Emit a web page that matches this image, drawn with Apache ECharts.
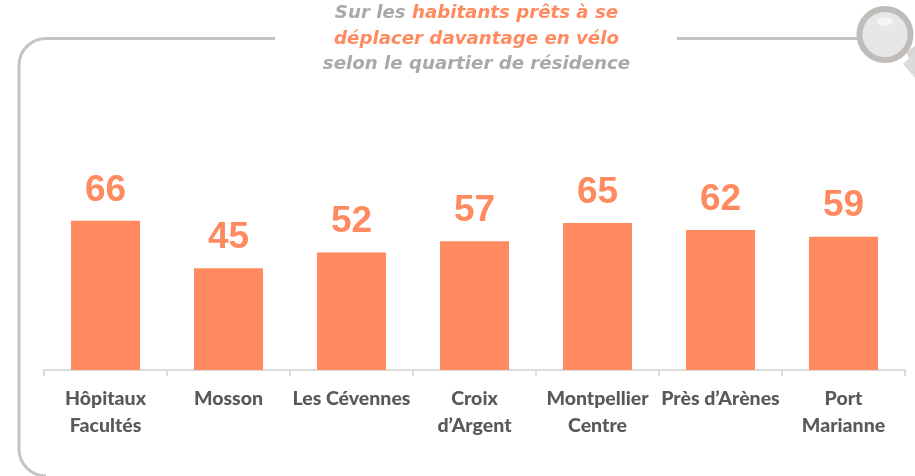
<!DOCTYPE html>
<html><head><meta charset="utf-8">
<style>html,body{margin:0;padding:0;background:#fff}#c{width:915px;height:476px}</style>
<script src="https://cdn.jsdelivr.net/npm/echarts@6/dist/echarts.min.js"></script>
</head><body><div id="c"></div>
<script>
const categories = ['Hôpitaux\nFacultés','Mosson','Les Cévennes','Croix\nd’Argent','Montpellier\nCentre','Près d’Arènes','Port\nMarianne'];
const values = [66,45,52,57,65,62,59];
const chart = echarts.init(document.getElementById('c'),null,{renderer:'canvas'});
const orange='#FF8A5F', grey='#A9A9A9', line='#C4C4C4';
const tf='"Liberation Sans",Arial,sans-serif';
const hf='"DejaVu Sans",sans-serif';
chart.setOption({
  animation:false,
  backgroundColor:'#fff',
  title:{
    left:471.5, top:-4, textAlign:'center',
    text:'{g|Sur les }{o|habitants prêts à se}\n{o|déplacer davantage en vélo}\n{g|selon le quartier de résidence}',
    textStyle:{
      rich:{
        g:{color:grey,fontFamily:hf,fontSize:18.2,fontWeight:'bold',fontStyle:'italic',lineHeight:25.5},
        o:{color:orange,fontFamily:hf,fontSize:18.2,fontWeight:'bold',fontStyle:'italic',lineHeight:25.5}
      }
    }
  },
  grid:{left:44,right:10,top:144,height:226},
  xAxis:{type:'category',data:categories,boundaryGap:true,
    axisLine:{lineStyle:{color:'#DCDCDC',width:2}},
    axisTick:{show:true,length:6,lineStyle:{color:'#DCDCDC',width:2}},
    axisLabel:{interval:0,color:'#595959',fontFamily:'Lato,"Open Sans",sans-serif',fontSize:19.5,fontWeight:900,lineHeight:27,margin:15}
  },
  yAxis:{type:'value',min:0,max:100,show:false},
  series:[{type:'bar',data:values,barWidth:69,itemStyle:{color:orange},
    label:{show:true,position:'top',distance:12,color:orange,fontFamily:tf,fontSize:37,fontWeight:'bold'}}],
  graphic:[
    {type:'polyline',silent:true,z:0,shape:{points:[[275,38.5],[46,38.5]]},style:{fill:null,stroke:line,lineWidth:3}},
    {type:'arc',silent:true,z:0,shape:{cx:46,cy:65.5,r:27,startAngle:Math.PI,endAngle:Math.PI*1.5},style:{fill:null,stroke:line,lineWidth:3}},
    {type:'polyline',silent:true,z:0,shape:{points:[[19,65.5],[19,449]]},style:{fill:null,stroke:line,lineWidth:3}},
    {type:'arc',silent:true,z:0,shape:{cx:46,cy:449,r:27,startAngle:Math.PI/2,endAngle:Math.PI,clockwise:true},style:{fill:null,stroke:line,lineWidth:3}},
    {type:'line',silent:true,z:0,shape:{x1:677,y1:38.5,x2:860,y2:38.5},style:{stroke:line,lineWidth:3}},
    {type:'polygon',silent:true,z:1,shape:{points:[[906,52],[915,46],[915,60],[909,58]]},style:{fill:'#D8D6D4'}},
    {type:'polygon',silent:true,z:1,shape:{points:[[903,64],[915,53],[915,78]]},style:{fill:'#DDDBD9'}},
    {type:'circle',silent:true,z:2,shape:{cx:885,cy:34.5,r:25.5},style:{fill:'#E8E7E8',stroke:'#BFBCB9',lineWidth:6}},
    {type:'ellipse',silent:true,z:3,shape:{cx:885,cy:21.5,rx:8,ry:4},style:{fill:'#F7F6F7'}}
  ]
});
</script></body></html>
